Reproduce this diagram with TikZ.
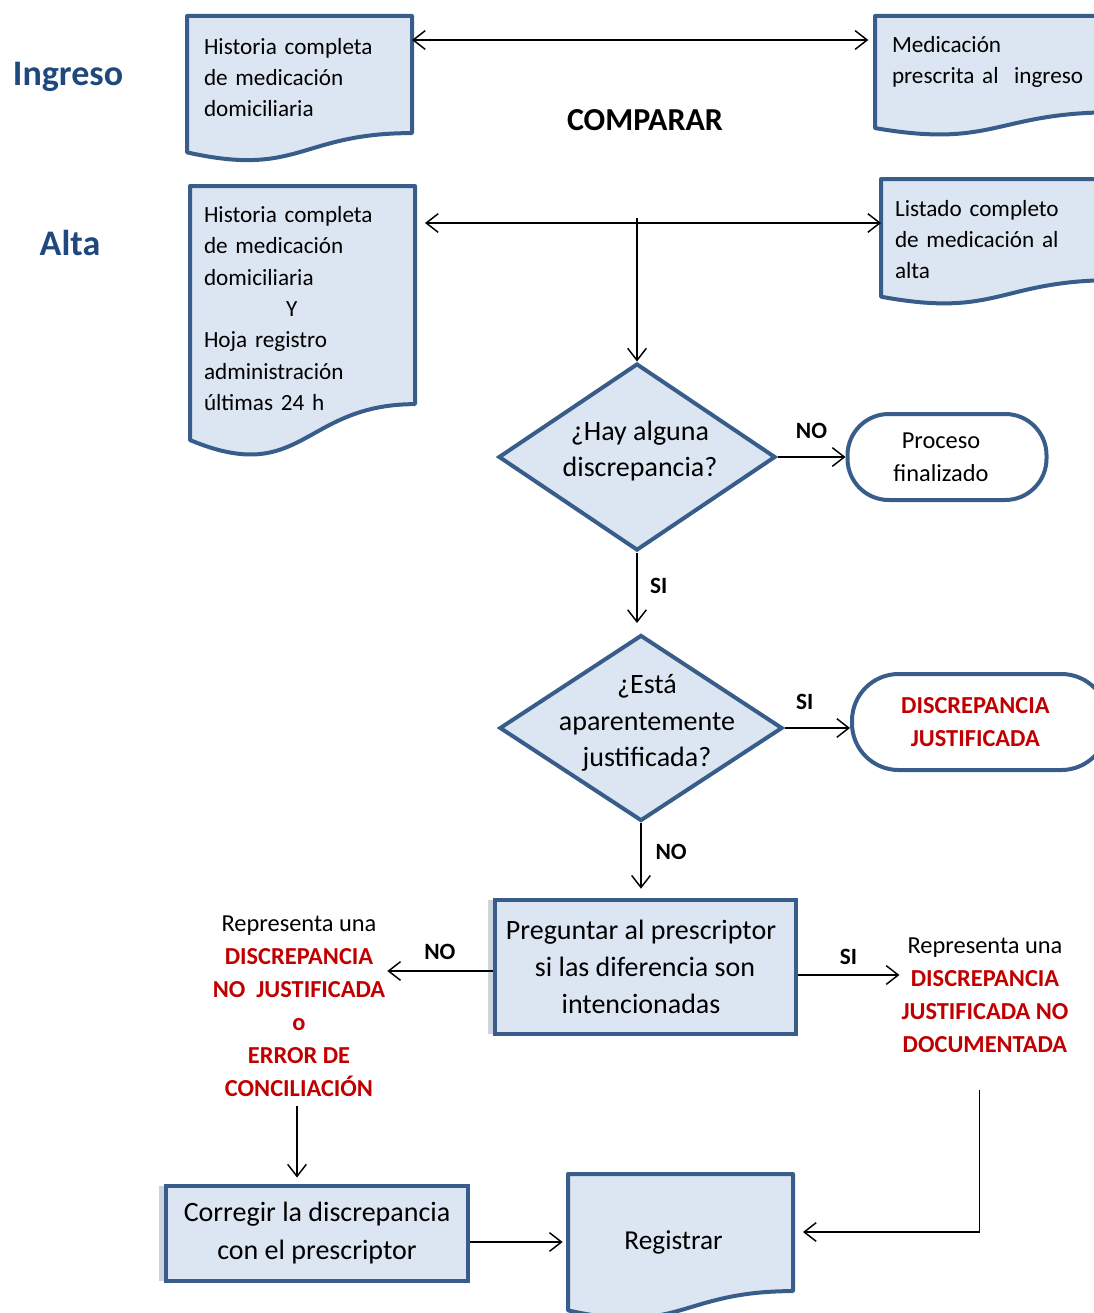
\documentclass[tikz,border=0pt]{standalone}
\usepackage{fontspec}
\setmainfont{Carlito}
\usetikzlibrary{arrows.meta,shapes.geometric,calc,backgrounds,shadows}

\definecolor{boxblue}{RGB}{56,93,138}
\definecolor{boxfill}{RGB}{220,230,242}
\definecolor{titleblue}{RGB}{31,73,125}
\definecolor{discred}{RGB}{192,0,0}
\definecolor{shadowc}{RGB}{205,212,222}

\newcommand{\px}{0.75pt}
\newcommand{\doctext}{\fontsize{17.4pt}{23.6pt}\selectfont}
\newcommand{\bigtext}{\fontsize{21pt}{28pt}\selectfont}
\newcommand{\midtext}{\fontsize{18.3pt}{24.6pt}\selectfont}
\newcommand{\lbltext}{\fontsize{17.5pt}{21pt}\selectfont\bfseries}
\newcommand{\alerta}[1]{\textcolor{discred}{\textbf{#1}}}

% document shape: flat top, wavy bottom
\newcommand{\docwave}[2]{%
  \draw[docline] (#1.north west) -- (#1.north east)
    -- ($(#1.north east)+(0,0.802*#2)$)
    .. controls ($(#1.north)+(0,0.802*#2)$) and ($(#1.north)+(0,1.107*#2)$) .. ($(#1.north west)+(0,0.934*#2)$) -- cycle;}

\begin{document}
\begin{tikzpicture}[x=0.75pt, y=-0.75pt,
    >={Straight Barb[length=9pt,width=14pt]},
    every path/.style={line width=1.1pt},
    title/.style={font=\fontsize{27pt}{32pt}\selectfont\bfseries, text=titleblue},
    docbox/.style={rectangle, anchor=north west, outer sep=0pt, inner xsep=12.75pt, align=left, font=\doctext},
    docline/.style={draw=boxblue, fill=boxfill, line width=3pt, line join=round},
    decision/.style={diamond, draw=boxblue, fill=boxfill, line width=3pt, inner sep=0pt},
    dtext/.style={align=center, font=\fontsize{21pt}{27.5pt}\selectfont},
    process/.style={rectangle, draw=boxblue, fill=boxfill, line width=3pt, align=center, font=\bigtext,
      drop shadow={shadow xshift=-5pt, shadow yshift=0pt, fill=shadowc, opacity=1}},
    ending/.style={rectangle, draw=boxblue, fill=white, line width=3pt, align=center},
    note/.style={align=center, inner sep=1pt, font=\fontsize{18.3pt}{24.75pt}\selectfont},
    lbl/.style={font=\lbltext}]
\useasboundingbox (0,0) rectangle (1094,1313);

% titles
\node[title] (ingreso) at (68,77) {Ingreso};
\node[title] (alta) at (70,243) {Alta};
\node[font=\fontsize{24pt}{28pt}\selectfont\bfseries] (comparar) at (645,120) {COMPARAR};

% documents
\node[docbox, minimum width=225*\px, minimum height=123*\px, text width=191*\px] (hist1) at (187,16)
  {Historia completa\\de medicación\\domiciliaria};
\node[docbox, minimum width=240*\px, minimum height=92*\px, text width=206*\px] (presc1) at (875,16)
  {Medicación\\prescrita al\ \ ingreso};
\node[docbox, inner xsep=10.5pt, minimum width=225*\px, minimum height=245*\px, text width=197*\px] (hist2) at (190,186)
  {Historia completa\\de medicación\\domiciliaria\\\hspace*{61.5pt}Y\\Hoja registro\\administración\\últimas 24 h};
\node[docbox, inner xsep=10.5pt, minimum width=235*\px, minimum height=121*\px, text width=207*\px] (list2) at (881,179)
  {Listado completo\\de medicación al\\alta};
\node[docbox, align=center, minimum width=225*\px, minimum height=136*\px, text width=191*\px,
  font=\fontsize{20.5pt}{26pt}\selectfont] (reg) at (568,1174) {Registrar\hspace*{10.5pt}\mbox{}};

\begin{scope}[on background layer]
  \docwave{hist1}{146}
  \docwave{presc1}{120}
  \docwave{hist2}{272}
  \docwave{list2}{126}
  \docwave{reg}{146}
\end{scope}

% decisions
\node[decision, minimum width=277*\px, minimum height=187*\px] (d1) at (637,457) {};
\node[dtext] (d1txt) at (640,451) {¿Hay alguna\\discrepancia?};
\node[decision, minimum width=283*\px, minimum height=186*\px] (d2) at (641,728) {};
\node[dtext] (d2txt) at (647,723) {¿Está\\aparentemente\\justificada?};

% end states
\node[ending, minimum width=199*\px, minimum height=86*\px, rounded corners=31pt, font=\midtext] (fin) at (947,457)
  {Proceso\hspace*{9pt}\\finalizado\hspace*{9pt}};
\node[ending, minimum width=256*\px, minimum height=96*\px, rounded corners=35pt, text=discred,
  font=\midtext\bfseries] (just) at (980,722) {DISCREPANCIA\hspace*{7pt}\\JUSTIFICADA\hspace*{7pt}};

% processes
\node[process, minimum width=301*\px, minimum height=134*\px] (preg) at (645,967)
  {Preguntar al prescriptor\hspace*{6pt}\\si las diferencia son\hspace*{6pt}\\intencionadas\hspace*{6pt}};
\node[process, minimum width=302*\px, minimum height=95*\px] (corr) at (317,1233)
  {Corregir la discrepancia\\con el prescriptor};

% outcomes
\node[note] (nojust) at (299,1006) {Representa una\\\alerta{DISCREPANCIA}\\\alerta{NO\ \ JUSTIFICADA}\\\alerta{o}\\\alerta{ERROR DE}\\\alerta{CONCILIACIÓN}};
\node[note] (sijust) at (985,995) {Representa una\\\alerta{DISCREPANCIA}\\\alerta{JUSTIFICADA NO}\\\alerta{DOCUMENTADA}};

% connectors
\coordinate (split) at (637,218);
\draw[<->] ([yshift=-18pt]hist1.north east) -- ([xshift=-5pt,yshift=-18pt]presc1.north west);
\draw[<->] ([xshift=7.5pt,yshift=-27.75pt]hist2.north east) -- ([yshift=-33pt]list2.north west);
\draw[->] (split) -- (d1.north);
\draw[->] (d1.east) -- (fin.west) node[lbl, midway, above=10pt] {NO};
\draw[->, shorten >=7.5pt] (d1.south) -- (d1.south |- d2.north) node[lbl, pos=0.42, right=6pt] {SI};
\draw[->] (d2.east) -- (d2.east -| just.west) node[lbl, pos=0.31, above=10pt] {SI};
\draw[->, shorten >=7pt] (d2.south) -- (d2.south |- preg.north) node[lbl, pos=0.38, right=7pt] {NO};
\draw[->] ([yshift=-3pt]preg.west) -- ([yshift=-3pt]preg.west -| nojust.east) node[lbl, midway, above=4.5pt] {NO};
\draw[->] ([yshift=-6pt]preg.east) -- ([yshift=-6pt]preg.east -| sijust.west) node[lbl, midway, above=3.8pt] {SI};
\draw[->, shorten <=6pt, shorten >=4.5pt] ([xshift=-1.5pt]nojust.south) -- ([xshift=-1.5pt]nojust.south |- corr.north);
\draw[->, shorten >=4pt] (corr.east |- reg.west) -- (reg.west);
\draw[->, shorten <=27pt, shorten >=7.5pt] ([xshift=-4pt]sijust.south) |- ([yshift=7.5pt]reg.east);
\end{tikzpicture}
\end{document}
